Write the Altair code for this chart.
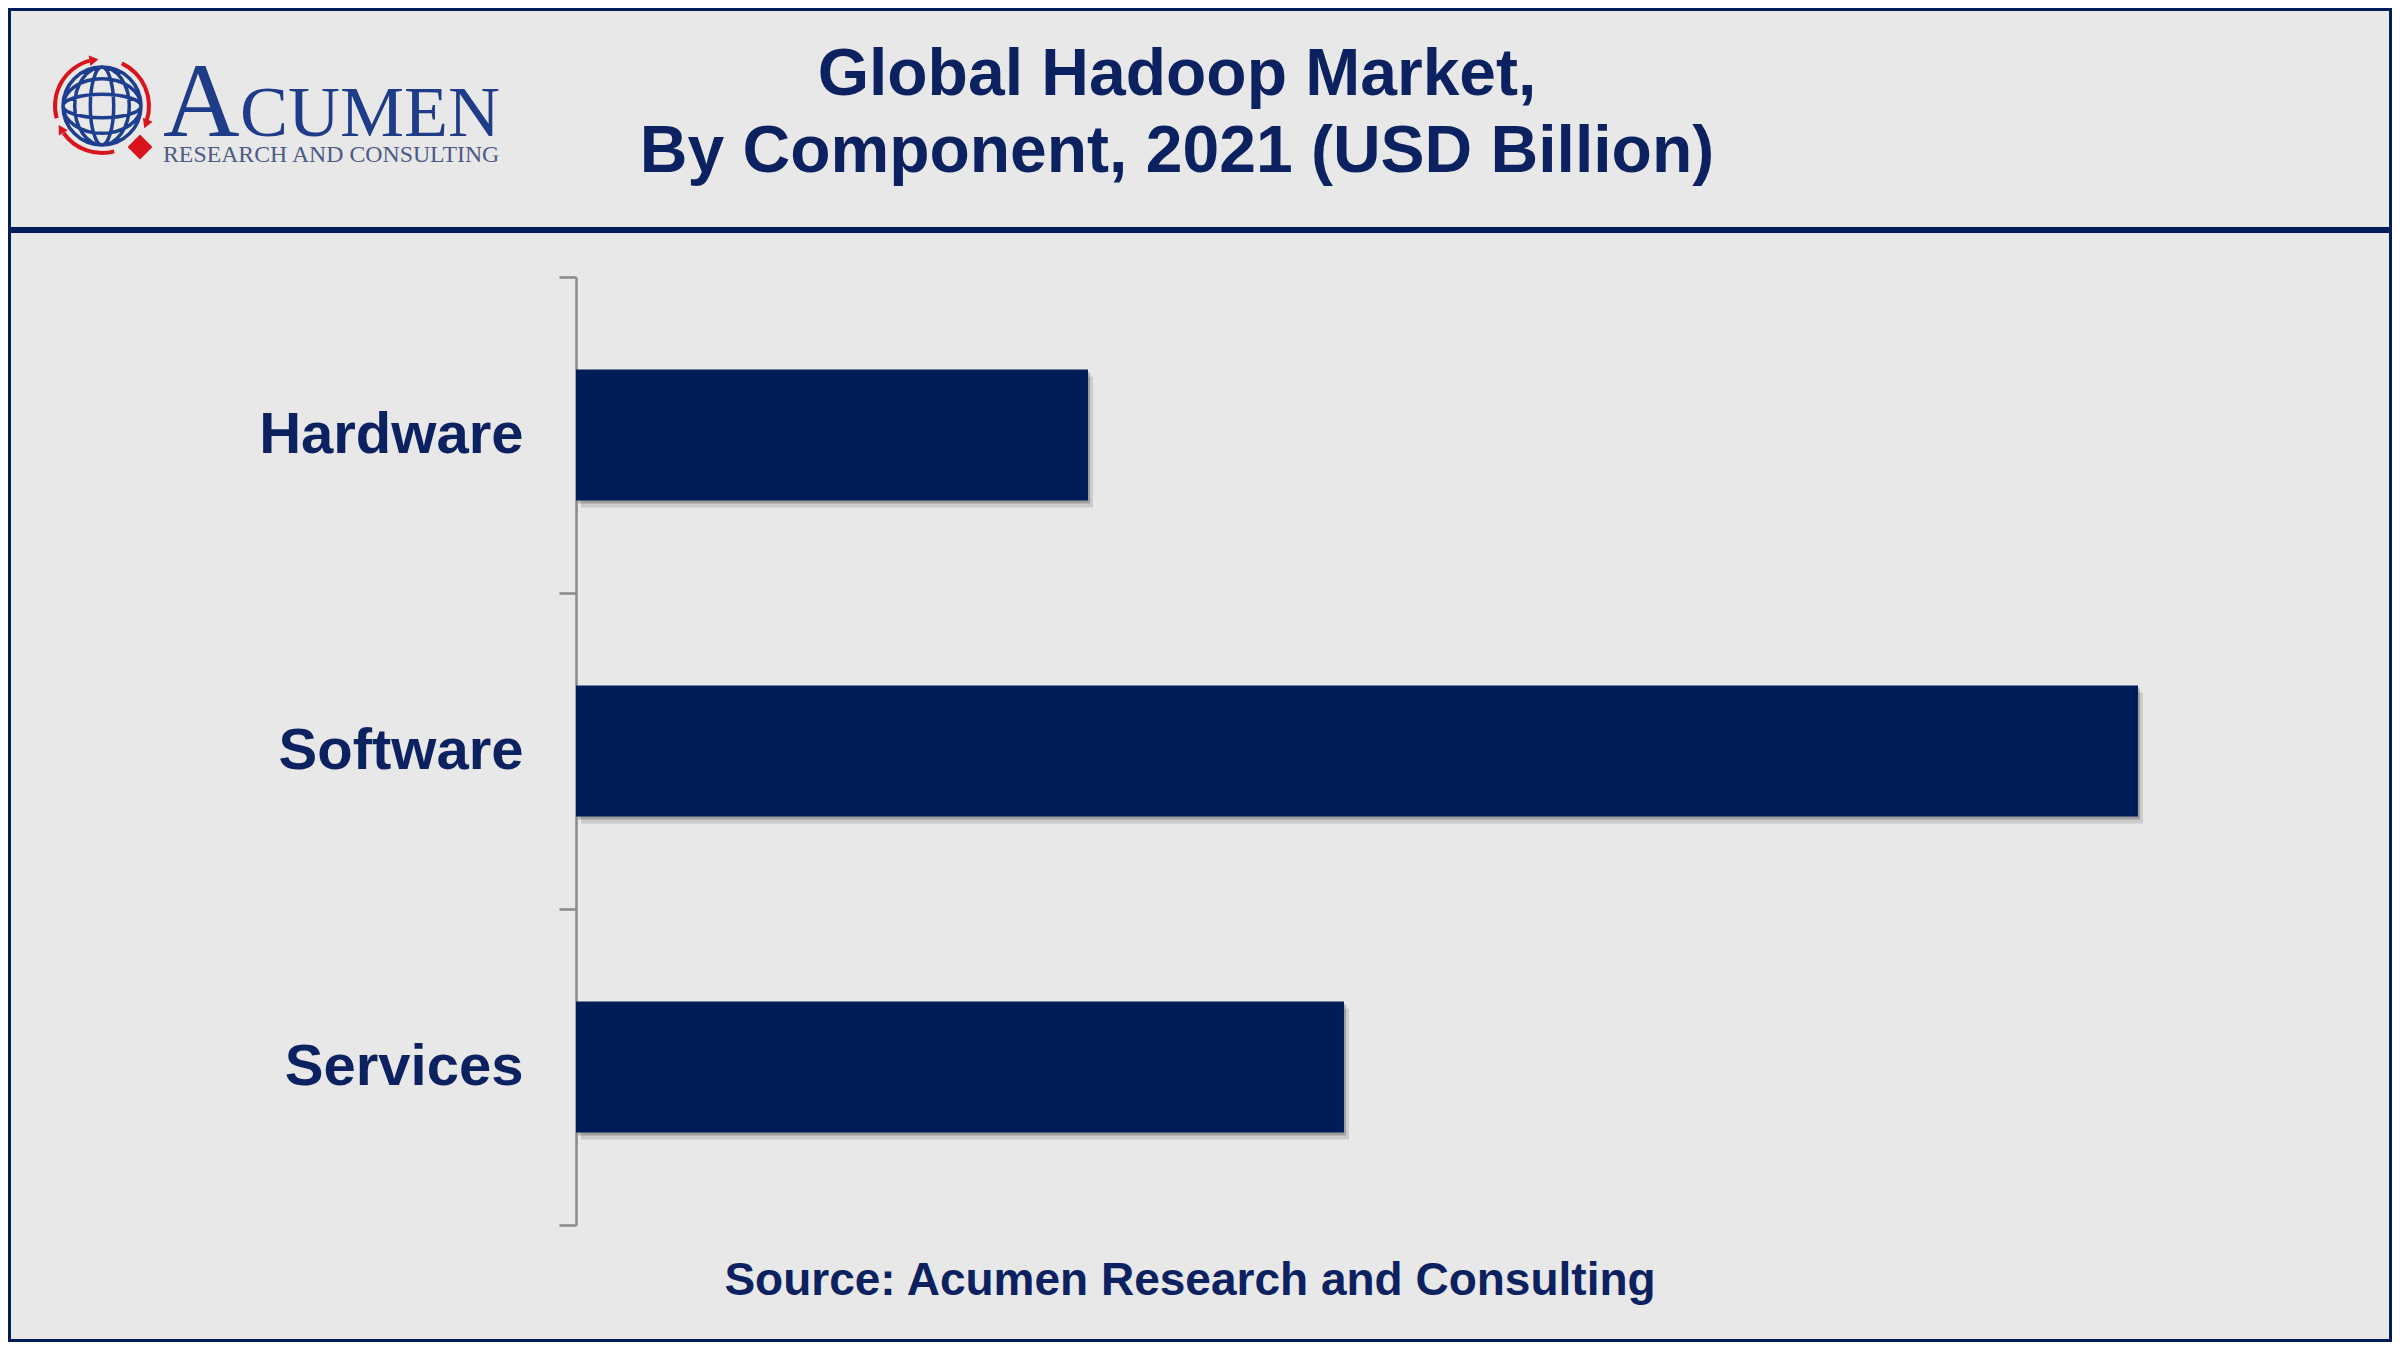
import altair as alt
import pandas as pd

# ---- data ----
components = ["Hardware", "Software", "Services"]
values = [5.9, 18.0, 8.85]  # USD Billion

title_lines = ["Global Hadoop Market,", "By Component, 2021 (USD Billion)"]
source_text = "Source: Acumen Research and Consulting"

df = pd.DataFrame({"component": components, "value": values})
one = pd.DataFrame({"k": [0]})

NAVY = "#001d5a"
TEXT_NAVY = "#0c215f"
RED = "#d9141c"
LOGO_BLUE = "#1f3c88"

W, H = 1562, 948
PAD_L, PAD_T = 568, 269
TOT_W, TOT_H = 2384, 1334

y_enc = alt.Y(
    "component:N",
    sort=components,
    scale=alt.Scale(paddingInner=0, paddingOuter=0),
    axis=alt.Axis(
        title=None,
        domainColor="#8a8a8a",
        domainWidth=2.5,
        tickColor="#8a8a8a",
        tickWidth=2.5,
        tickSize=17,
        tickBand="extent",
        labelFontSize=58,
        labelFont="Liberation Sans",
        labelFontWeight="bold",
        labelColor=TEXT_NAVY,
        labelPadding=36,
        labelLimit=0,
        grid=False,
    ),
)
x_enc = alt.X("value:Q", scale=alt.Scale(domain=[0, 18], nice=False), axis=None)

band = alt.RelativeBandSize(0.415)
shadow1 = alt.Chart(df).mark_bar(height=band, color="#000000", opacity=0.12, xOffset=5, yOffset=7).encode(x=x_enc, y=y_enc)
shadow2 = alt.Chart(df).mark_bar(height=band, color="#000000", opacity=0.22, xOffset=2, yOffset=3).encode(x=x_enc, y=y_enc)
bars = alt.Chart(df).mark_bar(height=band, color=NAVY).encode(x=x_enc, y=y_enc)


def P(xp, yp):
    """page pixel -> plot coordinates"""
    return xp - 576, yp - 277


def text_layer(txt, xp, yp, size, align="center", font="Liberation Sans", weight="bold", color=TEXT_NAVY):
    x, y = P(xp, yp)
    return alt.Chart(one).mark_text(
        text=txt, align=align, baseline="alphabetic", font=font, fontSize=size,
        fontWeight=weight, color=color,
    ).encode(x=alt.value(x), y=alt.value(y))


title1 = text_layer(title_lines[0], 1177, 95, 66)
title2 = text_layer(title_lines[1], 1177, 172, 66)
source = text_layer(source_text, 1190, 1295, 46)

# frame and header rule
fx1, fy1 = P(9.5, 9.5)
fx2, fy2 = P(2390.5, 1340.5)
frame = alt.Chart(one).mark_rect(filled=False, stroke=NAVY, strokeWidth=3).encode(
    x=alt.value(fx1), x2=alt.value(fx2), y=alt.value(fy1), y2=alt.value(fy2)
)
hx1, hy = P(8, 230)
hx2, _ = P(2392, 230)
header_rule = alt.Chart(one).mark_rule(color=NAVY, strokeWidth=6).encode(
    x=alt.value(hx1), x2=alt.value(hx2), y=alt.value(hy)
)

# logo
gcx, gcy = P(102, 106)
globe_path = (
    "M-1,0A1,1,0,1,1,1,0A1,1,0,1,1,-1,0Z"
    "M0,-1A0.3,1,0,1,1,0,1A0.3,1,0,1,1,0,-1Z"
    "M0,-1A0.7,1,0,1,1,0,1A0.7,1,0,1,1,0,-1Z"
    "M-1,0A1,0.3,0,1,1,1,0A1,0.3,0,1,1,-1,0Z"
    "M-1,0A1,0.7,0,1,1,1,0A1,0.7,0,1,1,-1,0Z"
)
globe = alt.Chart(one).mark_point(
    shape=globe_path, size=78 * 78, filled=False, stroke="#1e3f8f", strokeWidth=3.5, opacity=1
).encode(x=alt.value(gcx), y=alt.value(gcy))

arc_specs = [(4.45, 6.02), (0.436, 1.885), (2.88, 4.10)]
arcs = [
    alt.Chart(one).mark_arc(radius=45, radius2=49, theta=t1, theta2=t2, color=RED).encode(
        x=alt.value(gcx), y=alt.value(gcy)
    )
    for t1, t2 in arc_specs
]
arrow_specs = [(-482, -217, 80), (-430, -153, 202), (-515, -148, 330)]
arrows = [
    alt.Chart(one).mark_point(shape="triangle-up", size=110, filled=True, color=RED, opacity=1, angle=a).encode(
        x=alt.value(ax), y=alt.value(ay)
    )
    for ax, ay, a in arrow_specs
]
dx, dy = P(140, 147)
diamond = alt.Chart(one).mark_point(shape="diamond", size=620, filled=True, color=RED, opacity=1).encode(
    x=alt.value(dx), y=alt.value(dy)
)

logo_A = text_layer("A", 163, 136, 106, align="left", font="Liberation Serif", weight="normal", color=LOGO_BLUE)
logo_CUMEN = text_layer("CUMEN", 240, 136, 72, align="left", font="Liberation Serif", weight="normal", color=LOGO_BLUE)
logo_sub = text_layer("RESEARCH AND CONSULTING", 163, 162, 23.8, align="left", font="Liberation Serif", weight="normal", color="#4b5b86")

chart = alt.layer(
    frame, header_rule, title1, title2, source,
    *arcs, *arrows, globe, diamond, logo_A, logo_CUMEN, logo_sub,
    shadow1, shadow2, bars,
).properties(
    width=W, height=H,
    padding={"left": PAD_L, "top": PAD_T, "right": TOT_W - PAD_L - W, "bottom": TOT_H - PAD_T - H},
    autosize=alt.AutoSizeParams(type="none"),
).configure(
    background="#e8e8e8",
).configure_view(stroke=None)

chart.save("out.html", embed_options={"renderer": "svg", "actions": False})
